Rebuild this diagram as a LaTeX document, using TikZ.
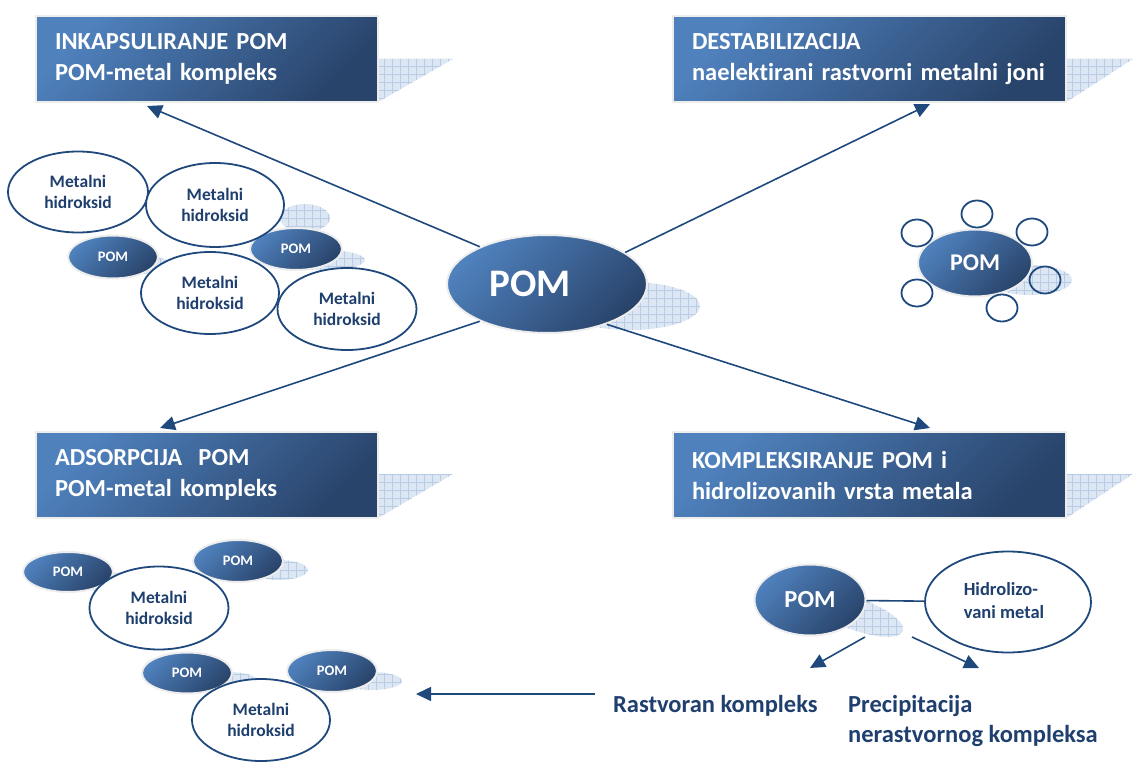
\documentclass[tikz,border=0pt]{standalone}
\usepackage{fontspec}
\setmainfont{Carlito}[Ligatures=NoCommon]
\usetikzlibrary{shapes.geometric,arrows.meta,patterns.meta}
\definecolor{gl}{HTML}{4F81BD}
\definecolor{gd}{HTML}{29446B}
\definecolor{ln}{HTML}{1F497D}
\definecolor{tx}{HTML}{1F3F6E}
\definecolor{hbg}{HTML}{DDE7F3}
\definecolor{hln}{HTML}{B8CCE6}
\begin{document}
\begin{tikzpicture}[x=1pt,y=-1pt,
 hatch/.style={fill=hbg,
   postaction={pattern={Lines[angle=0,distance=8pt,line width=0.5pt]},pattern color=hln},
   postaction={pattern={Lines[angle=90,distance=8pt,line width=0.5pt]},pattern color=hln}},
 grad/.style={top color=gl, bottom color=gd, shading angle=45, draw=black!7, line width=2pt},
 box/.style={grad, rectangle, anchor=north west, inner xsep=19pt, inner ysep=0pt, align=left,
   text=white, font=\fontsize{24.5}{31}\selectfont\bfseries, minimum height=86pt},
 pome/.style={grad, ellipse, inner sep=0pt, text=white, font=\fontsize{14.5}{16}\selectfont\bfseries},
 mh/.style={ellipse, draw=ln, line width=1.8pt, fill=white, inner sep=0pt, align=center,
   text=tx, font=\fontsize{17.5}{21.5}\selectfont\bfseries},
 ring/.style={ellipse, draw=ln, line width=1.8pt, minimum width=31pt, minimum height=27pt, inner sep=0pt},
 arr/.style={draw=ln, line width=1.6pt, -{Triangle[length=15pt,width=14pt]}},
 conn/.style={draw=ln, line width=1.6pt},
 lbl/.style={text=tx, font=\fontsize{24.5}{30}\selectfont\bfseries, inner sep=0pt, anchor=base west}
]
\useasboundingbox (0,0) rectangle (1133,762);

% box shadows
\path[hatch] (330,59) -- (453,59) -- (380,101) -- (330,101) -- cycle;
\path[hatch] (1000,59) -- (1133,59) -- (1068,101) -- (1000,101) -- cycle;
\path[hatch] (330,474) -- (453,474) -- (380,517) -- (330,517) -- cycle;
\path[hatch] (1000,474) -- (1133,474) -- (1068,517) -- (1000,517) -- cycle;

% ellipse shadows
\path[hatch] (630,306) ellipse (70 and 24);
\path[hatch] (140,265) ellipse (32 and 9);
\path[hatch] (325,260) ellipse (40 and 10);
\path[hatch] (305,218) ellipse (25 and 14);
\path[hatch] (1030,280) ellipse (42 and 15);
\path[hatch] (108,582) ellipse (30 and 10);
\path[hatch] (278,570) ellipse (30 and 10);
\path[hatch] (228,681) ellipse (30 and 9);
\path[hatch] (372,681) ellipse (30 and 9);
\path[hatch, rotate around={-20:(856,614)}] (856,614) ellipse (50 and 16);

% boxes
\node[box, text width=304pt] (b1) at (35,15) {INKAPSULIRANJE POM\\POM-metal kompleks};
\node[box, text width=355pt] (b2) at (672,15) {DESTABILIZACIJA\\naelektirani rastvorni metalni joni};
\node[box, text width=304pt] (b3) at (35,431) {ADSORPCIJA\ \ POM\\POM-metal kompleks};
\node[box, text width=355pt] (b4) at (672,431) {KOMPLEKSIRANJE POM i\\hidrolizovanih vrsta metala};

% central POM
\node[pome, minimum width=200pt, minimum height=98pt] (pom) at (547,284) {};
\node[text=white, font=\fontsize{39}{41}\selectfont\bfseries, inner sep=0pt] (pomt) at (530,284) {POM};

% top-left cluster
\node[pome, minimum width=90pt, minimum height=43pt] (p1) at (113,257) {POM};
\node[pome, minimum width=92pt, minimum height=42pt] (p2) at (296,249) {POM};
\node[mh, minimum width=140pt, minimum height=81pt] (mh1) at (78,192) {Metalni\\hidroksid};
\node[mh, minimum width=138pt, minimum height=84pt] (mh2) at (215,205) {Metalni\\hidroksid};
\node[mh, minimum width=138pt, minimum height=82pt] (mh3) at (210,293) {Metalni\\hidroksid};
\node[mh, minimum width=139pt, minimum height=82pt] (mh4) at (347,309) {Metalni\\hidroksid};

% right cluster
\node[pome, minimum width=114pt, minimum height=67pt, font=\fontsize{24}{26}\selectfont\bfseries] (p3) at (975,263) {POM};
\node[ring] (r1) at (977,214) {};
\node[ring] (r2) at (917,233) {};
\node[ring] (r3) at (1032,232) {};
\node[ring] (r4) at (1045,280) {};
\node[ring] (r5) at (917,293) {};
\node[ring] (r6) at (1002,308) {};

% bottom-left cluster
\node[pome, minimum width=90pt, minimum height=40pt] (pa) at (68,572) {POM};
\node[pome, minimum width=90pt, minimum height=42pt] (pb) at (238,561) {POM};
\node[pome, minimum width=90pt, minimum height=41pt] (pc) at (187,673) {POM};
\node[pome, minimum width=90pt, minimum height=42pt] (pd) at (332,671) {POM};
\node[mh, minimum width=139pt, minimum height=83pt] (mha) at (159,608) {Metalni\\hidroksid};
\node[mh, minimum width=138pt, minimum height=82pt] (mhb) at (261,720) {Metalni\\hidroksid};

% bottom-right cluster
\node[pome, minimum width=111pt, minimum height=71pt, font=\fontsize{24.5}{26}\selectfont\bfseries] (p5) at (810,600) {POM};
\node[mh, minimum width=166pt, minimum height=101pt] (hm) at (1008,602) {};
\node[text=tx, font=\fontsize{18.5}{23}\selectfont\bfseries, align=left, inner sep=0pt] (hmt) at (1004,601) {Hidrolizo-\\vani metal};
\draw[conn] (p5) -- (hm);

\node[lbl] (rk) at (613,712) {Rastvoran kompleks};
\node[lbl] (pk1) at (848,712) {Precipitacija};
\node[lbl] (pk2) at (848,742) {nerastvornog kompleksa};

% connector end points
\coordinate (t1) at (147,106);
\coordinate (t2) at (930,104);
\coordinate (t3) at (160,428);
\coordinate (t4) at (930,428);
\coordinate (s5) at (865,637);
\coordinate (e5) at (810,668);
\coordinate (s6) at (912,637);
\coordinate (e6) at (979,668);
\coordinate (s7) at (595,694);
\coordinate (e7) at (416,694);

\draw[arr] (pom.151) -- (t1);
\draw[arr] (pom.22) -- (t2);
\draw[arr] (pom.209) -- (t3);
\draw[arr] (pom.326) -- (t4);
\draw[arr] (s5) -- (e5);
\draw[arr] (s6) -- (e6);
\draw[arr] (s7) -- (e7);
\end{tikzpicture}
\end{document}
